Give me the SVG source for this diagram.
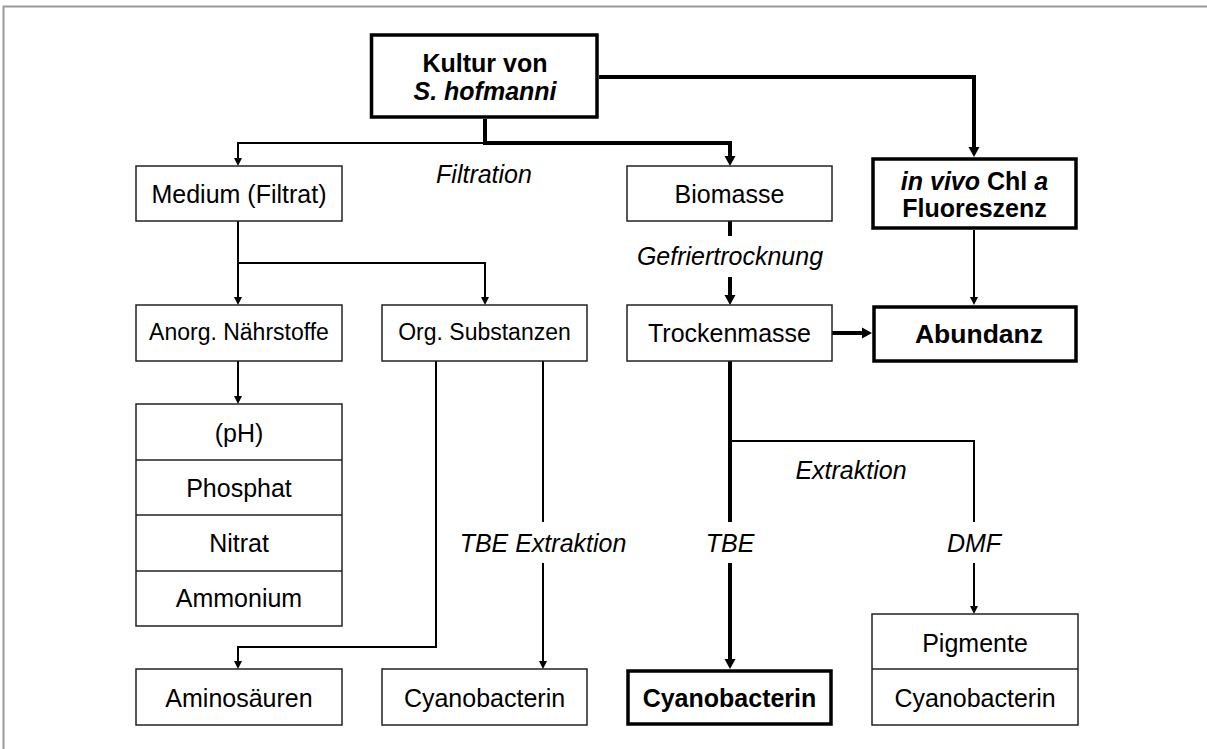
<svg xmlns="http://www.w3.org/2000/svg" width="1207" height="749" viewBox="0 0 1207 749">
<style>
.bg{fill:#fff}
.frame{stroke:#9a9a9a;stroke-width:2;fill:none}
.box{fill:#fff;stroke:#222;stroke-width:1.5}
.bbox{fill:#fff;stroke:#000;stroke-width:3.5}
.div{stroke:#222;stroke-width:1.5}
.t{font-family:"Liberation Sans",Arial,sans-serif;font-size:25px;fill:#000;text-anchor:middle}
.s{font-size:23px}
.l{font-size:26.5px}
.b{font-weight:bold}
.i{font-style:italic}
.thin{fill:none;stroke:#000;stroke-width:2}
.thick{fill:none;stroke:#000;stroke-width:4}
</style>
<defs>
<marker id="ah" markerUnits="userSpaceOnUse" markerWidth="9" markerHeight="9" refX="0" refY="4" orient="auto" overflow="visible">
<path d="M0,0 L8,4 L0,8 Z" fill="#000"/>
</marker>
<marker id="ahb" markerUnits="userSpaceOnUse" markerWidth="12" markerHeight="12" refX="0" refY="5.5" orient="auto" overflow="visible">
<path d="M0,0 L10,5.5 L0,11 Z" fill="#000"/>
</marker>
</defs>
<rect class="bg" x="0" y="0" width="1207" height="749"/>
<path class="frame" d="M3.5,749 V6.5 H1207"/>

<g id="connectors">
<path class="thin" d="M485,143 H238 V158" marker-end="url(#ah)"/>
<path class="thick" d="M485,119 V143 H730 V156" marker-end="url(#ahb)"/>
<path class="thick" d="M599,77 H974 V147" marker-end="url(#ahb)"/>
<path class="thin" d="M238,221 V297" marker-end="url(#ah)"/>
<path class="thin" d="M238,263 H485 V297" marker-end="url(#ah)"/>
<path class="thin" d="M238,361 V396" marker-end="url(#ah)"/>
<path class="thin" d="M436,361 V647 H238 V661" marker-end="url(#ah)"/>
<path class="thin" d="M543,361 V522"/>
<path class="thin" d="M543,563 V661" marker-end="url(#ah)"/>
<path class="thick" d="M730,221 V236"/>
<path class="thick" d="M730,277 V295" marker-end="url(#ahb)"/>
<path class="thick" d="M832,333 H862" marker-end="url(#ahb)"/>
<path class="thin" d="M974,230 V297" marker-end="url(#ah)"/>
<path class="thick" d="M730,361 V522"/>
<path class="thick" d="M730,563 V659" marker-end="url(#ahb)"/>
<path class="thin" d="M730,441 H974 V522"/>
<path class="thin" d="M974,563 V606" marker-end="url(#ah)"/>
<text class="t i" x="484" y="183">Filtration</text>
<text class="t i" x="730" y="265">Gefriertrocknung</text>
<text class="t i" x="851" y="479">Extraktion</text>
<text class="t i" x="543" y="552">TBE Extraktion</text>
<text class="t i" x="730" y="552">TBE</text>
<text class="t i" x="974" y="552">DMF</text>
</g>

<g id="kultur">
<rect class="bbox" x="371.5" y="35" width="225.5" height="82"/>
<text class="t b" x="485" y="72">Kultur von</text>
<text class="t b i" x="485" y="100">S. hofmanni</text>
</g>
<g id="medium">
<rect class="box" x="136" y="166" width="206" height="55"/>
<text class="t" x="239" y="203">Medium (Filtrat)</text>
</g>
<g id="biomasse">
<rect class="box" x="627" y="166" width="205" height="55"/>
<text class="t" x="729.5" y="203">Biomasse</text>
</g>
<g id="invivo">
<rect class="bbox" x="873" y="159" width="203" height="69"/>
<text class="t b" x="974.5" y="190"><tspan class="i">in vivo</tspan> Chl <tspan class="i">a</tspan></text>
<text class="t b" x="974.5" y="217">Fluoreszenz</text>
</g>
<g id="anorg">
<rect class="box" x="136" y="305" width="206" height="56"/>
<text class="t s" x="239" y="340">Anorg. Nährstoffe</text>
</g>
<g id="org">
<rect class="box" x="382" y="305" width="205" height="56"/>
<text class="t s" x="484.5" y="340">Org. Substanzen</text>
</g>
<g id="trockenmasse">
<rect class="box" x="627" y="305" width="205" height="56"/>
<text class="t" x="729.5" y="342">Trockenmasse</text>
</g>
<g id="abundanz">
<rect class="bbox" x="874" y="307" width="202" height="54"/>
<text class="t b l" x="979" y="343">Abundanz</text>
</g>
<g id="anorg-list">
<rect class="box" x="136" y="404" width="206" height="222"/>
<line class="div" x1="136" y1="460" x2="342" y2="460"/>
<line class="div" x1="136" y1="515" x2="342" y2="515"/>
<line class="div" x1="136" y1="571" x2="342" y2="571"/>
<text class="t" x="239" y="442">(pH)</text>
<text class="t" x="239" y="497">Phosphat</text>
<text class="t" x="239" y="552">Nitrat</text>
<text class="t" x="239" y="607">Ammonium</text>
</g>
<g id="aminosaeuren">
<rect class="box" x="136" y="669" width="206" height="56"/>
<text class="t" x="239" y="707">Aminosäuren</text>
</g>
<g id="cyano-org">
<rect class="box" x="382" y="669" width="205" height="56"/>
<text class="t" x="484.5" y="707">Cyanobacterin</text>
</g>
<g id="cyano-tbe">
<rect class="bbox" x="628" y="671" width="203" height="53"/>
<text class="t b" x="729.5" y="707">Cyanobacterin</text>
</g>
<g id="dmf-list">
<rect class="box" x="872" y="614" width="206" height="111"/>
<line class="div" x1="872" y1="669" x2="1078" y2="669"/>
<text class="t" x="975" y="652">Pigmente</text>
<text class="t" x="975" y="707">Cyanobacterin</text>
</g>
</svg>
